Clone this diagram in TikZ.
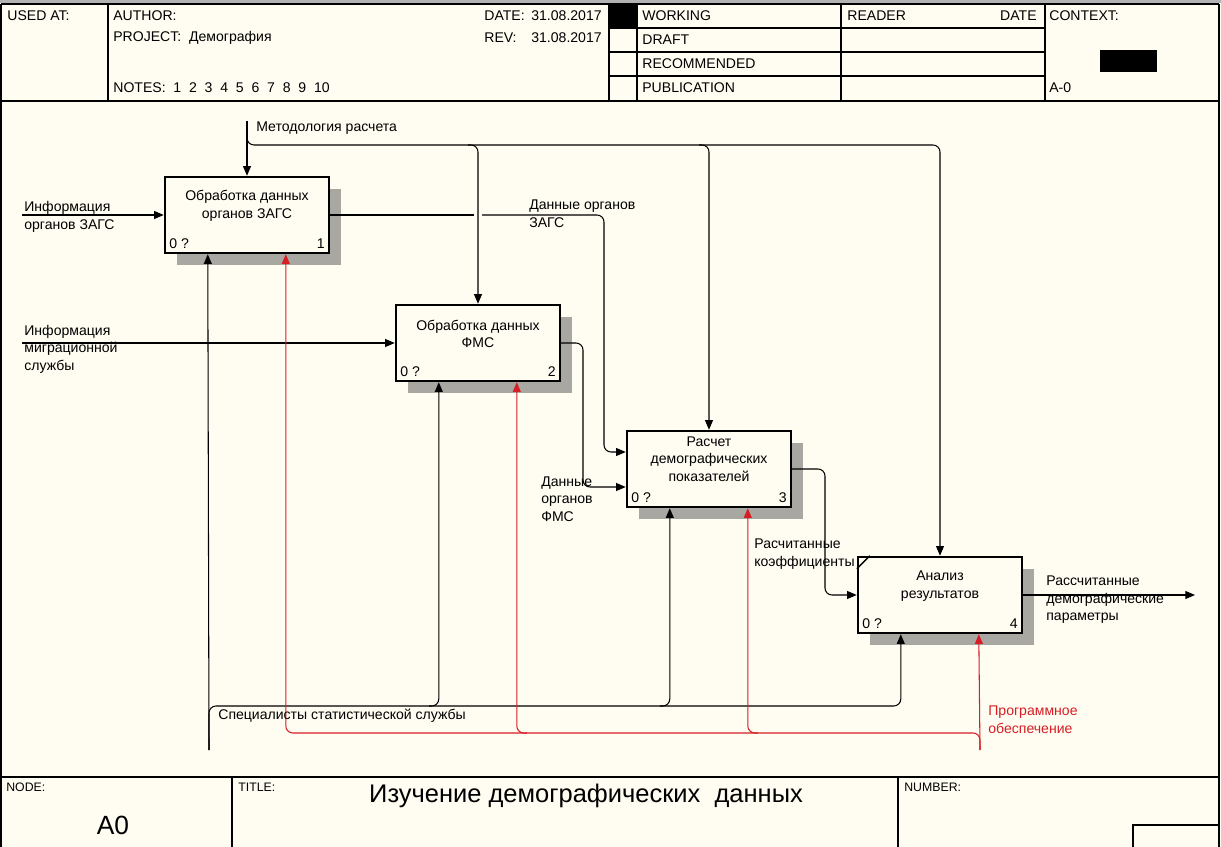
\documentclass[tikz,border=0pt]{standalone}
\usepackage{fontspec}
\setmainfont{Liberation Sans}
\usetikzlibrary{arrows.meta,positioning,calc,shadows}
\definecolor{sheetbg}{RGB}{255,252,242}
\definecolor{mechred}{RGB}{214,30,36}
\definecolor{shadowgray}{RGB}{168,167,162}
\tikzset{
  actbox/.style={draw,line width=1.4pt,fill=sheetbg,minimum width=3.28cm,minimum height=1.52cm,
    general shadow={fill=shadowgray,shadow xshift=0.24cm,shadow yshift=-0.24cm}},
  acttext/.style={align=center,font=\fontsize{8}{10}\selectfont,inner sep=0pt},
  corner/.style={font=\fontsize{8}{10}\selectfont,inner sep=3pt},
  lbl/.style={align=left,font=\fontsize{8}{10}\selectfont,inner sep=0pt,anchor=west},
  hdr/.style={font=\fontsize{8}{10}\selectfont,inner sep=0pt,anchor=west},
  ftr/.style={font=\fontsize{7}{8}\selectfont,inner sep=0pt,anchor=west},
}
\begin{document}
\begin{tikzpicture}[x=0.02cm,y=-0.02cm,
    arr/.style={-{Triangle[length=5.5pt,width=4.5pt]},line width=0.6pt},
    flow/.style={line width=0.6pt},
    redarr/.style={arr,mechred},
    frame/.style={line width=0.6pt},
  ]
    \fill[sheetbg] (0,0) rectangle (1221,847);
    \useasboundingbox (0,0) rectangle (1221,847);
    \fill[gray!60] (0,0) rectangle (1221,3);
    % sheet frame
    \draw[frame] (1,4) -- (1219,4) (1,4) -- (1,847) (1219,4) -- (1219,847);
    \draw[frame] (1,101) -- (1219,101) (1,777) -- (1219,777);
    \draw[frame] (108,4) -- (108,101) (609,4) -- (609,101) (637,4) -- (637,101)
      (841,4) -- (841,101) (1045,4) -- (1045,101);
    \draw[frame] (609,28) -- (1045,28) (609,52) -- (1045,52) (609,76) -- (1045,76);
    \fill (609,4) rectangle (637,28);
    \fill (1100,50) rectangle (1157,72);
    \draw[frame] (232,777) -- (232,847) (898,777) -- (898,847);
    \draw[frame] (1133,847) -- (1133,825) -- (1219,825);
    % header
    \node[hdr] (usedat) at (7,16) {USED AT:};
    \node[hdr] (author) at (113,16) {AUTHOR:};
    \node[hdr] (project) at (113,38) {PROJECT:\ \ Демография};
    \node[hdr] (notes) at (113,88) {NOTES:\ \ 1\ \ 2\ \ 3\ \ 4\ \ 5\ \ 6\ \ 7\ \ 8\ \ 9\ \ 10};
    \node[hdr] (datelbl) at (484,16) {DATE:};
    \node[hdr] (dateval) at (531,16) {31.08.2017};
    \node[hdr] (revlbl) at (484,38) {REV:};
    \node[hdr] (revval) at (531,38) {31.08.2017};
    \node[hdr] (working) at (642,16) {WORKING};
    \node[hdr] (draft) at (642,40) {DRAFT};
    \node[hdr] (recommended) at (642,64) {RECOMMENDED};
    \node[hdr] (publication) at (642,88) {PUBLICATION};
    \node[hdr] (reader) at (847,16) {READER};
    \node[hdr,anchor=east] (readerdate) at (1037,16) {DATE};
    \node[hdr] (context) at (1049,16) {CONTEXT:};
    \node[hdr] (ctxnode) at (1049,88) {A-0};
    % footer
    \node[ftr] (nodelbl) at (6,787) {NODE:};
    \node[font=\fontsize{15}{16}\selectfont] (nodeval) at (113,825) {A0};
    \node[ftr] (titlelbl) at (238,787) {TITLE:};
    \node[font=\fontsize{14.5}{18}\selectfont] (titleval) at (586,796) {Изучение демографических\ \ данных};
    \node[ftr] (numlbl) at (904,787) {NUMBER:};
    % activity boxes
    \node[actbox] (b1) at (247,215) {};
    \node[actbox] (b2) at (478,343) {};
    \node[actbox] (b3) at (709,469) {};
    \node[actbox] (b4) at (940,595) {};
    \node[acttext] (t1) at ([yshift=0.18cm]b1.center) {Обработка данных\\органов ЗАГС};
    \node[acttext] (t2) at ([yshift=0.18cm]b2.center) {Обработка данных\\ФМС};
    \node[acttext] (t3) at ([yshift=0.2cm]b3.center) {Расчет\\демографических\\показателей};
    \node[acttext] (t4) at ([yshift=0.18cm]b4.center) {Анализ\\результатов};
    \foreach \b/\n in {b1/1,b2/2,b3/3,b4/4} {
      \node[corner,anchor=south west] (q\b) at (\b.south west) {0 ?};
      \node[corner,anchor=south east] (n\b) at (\b.south east) {\n};
      \coordinate (m\b) at ($(\b.south west)+(44,0)$);
      \coordinate (r\b) at ($(\b.south west)+(122,0)$);
    }
    \draw[line width=0.8pt] ($(b4.north west)+(0,13)$) -- ($(b4.north west)+(13,0)$);
    % inputs
    \coordinate (in1) at (22,215);
    \coordinate (in2) at (22,343);
    \draw[arr] (in1) -- (b1.west);
    \draw[arr] (in2) -- (b2.west);
    % controls
    \coordinate (ctlsrc) at (247,121);
    \coordinate (ctlsplit) at (247,133);
    \coordinate (ctlbus) at (247,145);
    \draw[arr] (ctlsrc) -- (b1.north);
    \draw[arr,rounded corners=4pt] (ctlsplit) |- (b4.north |- ctlbus) -- (b4.north);
    \foreach \b in {b2,b3}
      \draw[arr,rounded corners=4pt] ($(\b.north |- ctlbus)+(-10,0)$) -| (\b.north);
    % outputs
    \coordinate (zags) at (604,300);
    \coordinate (fms) at (583,420);
    \coordinate (coef) at (825,530);
    \coordinate (outend) at (1195,595);
    \draw[flow] (b1.east) -- ($(b2.north |- b1.east)+(-4,0)$);
    \draw[arr,rounded corners=4pt] ($(b2.north |- b1.east)+(4,0)$) -| (zags) |- ($(b3.west)+(0,-17)$);
    \draw[arr,rounded corners=4pt] (b2.east) -| (fms) |- ($(b3.west)+(0,18)$);
    \draw[arr,rounded corners=4pt] (b3.east) -| (coef) |- (b4.west);
    \draw[arr] (b4.east) -- (outend);
    % mechanisms
    \coordinate (mechsrc) at (209,750);
    \coordinate (mechbus) at (209,706);
    \coordinate (swsrc) at (980,750);
    \coordinate (swbus) at (980,733);
    \draw[arr] (mechsrc) -- (mb1);
    \draw[arr,rounded corners=4pt] (mechsrc) |- (mb4 |- mechbus) -- (mb4);
    \foreach \b in {b2,b3}
      \draw[arr,rounded corners=4pt] ($(m\b |- mechbus)+(-10,0)$) -| (m\b);
    \draw[redarr] (swsrc) -- (rb4);
    \draw[redarr,rounded corners=4pt] (swsrc) |- (rb1 |- swbus) -- (rb1);
    \foreach \b in {b2,b3}
      \draw[redarr,rounded corners=4pt] ($(r\b |- swbus)+(10,0)$) -| (r\b);
    % arrow labels
    \node[lbl] (ctllbl) at (256,128) {Методология расчета};
    \node[lbl] (in1lbl) at (24,217) {Информация\\органов ЗАГС};
    \node[lbl] (in2lbl) at (24,349) {Информация\\миграционной\\службы};
    \node[lbl] (zagslbl) at (529,214) {Данные органов\\ЗАГС};
    \node[lbl] (fmslbl) at (541,499) {Данные\\органов\\ФМС};
    \node[lbl] (coeflbl) at (754,554) {Расчитанные\\коэффициенты};
    \node[lbl] (outlbl) at (1046,600) {Рассчитанные\\демографические\\параметры};
    \node[lbl] (mechlbl) at (218,716) {Специалисты статистической службы};
    \node[lbl,text=mechred] (swlbl) at (988,720) {Программное\\обеспечение};
  \end{tikzpicture}
\end{document}
